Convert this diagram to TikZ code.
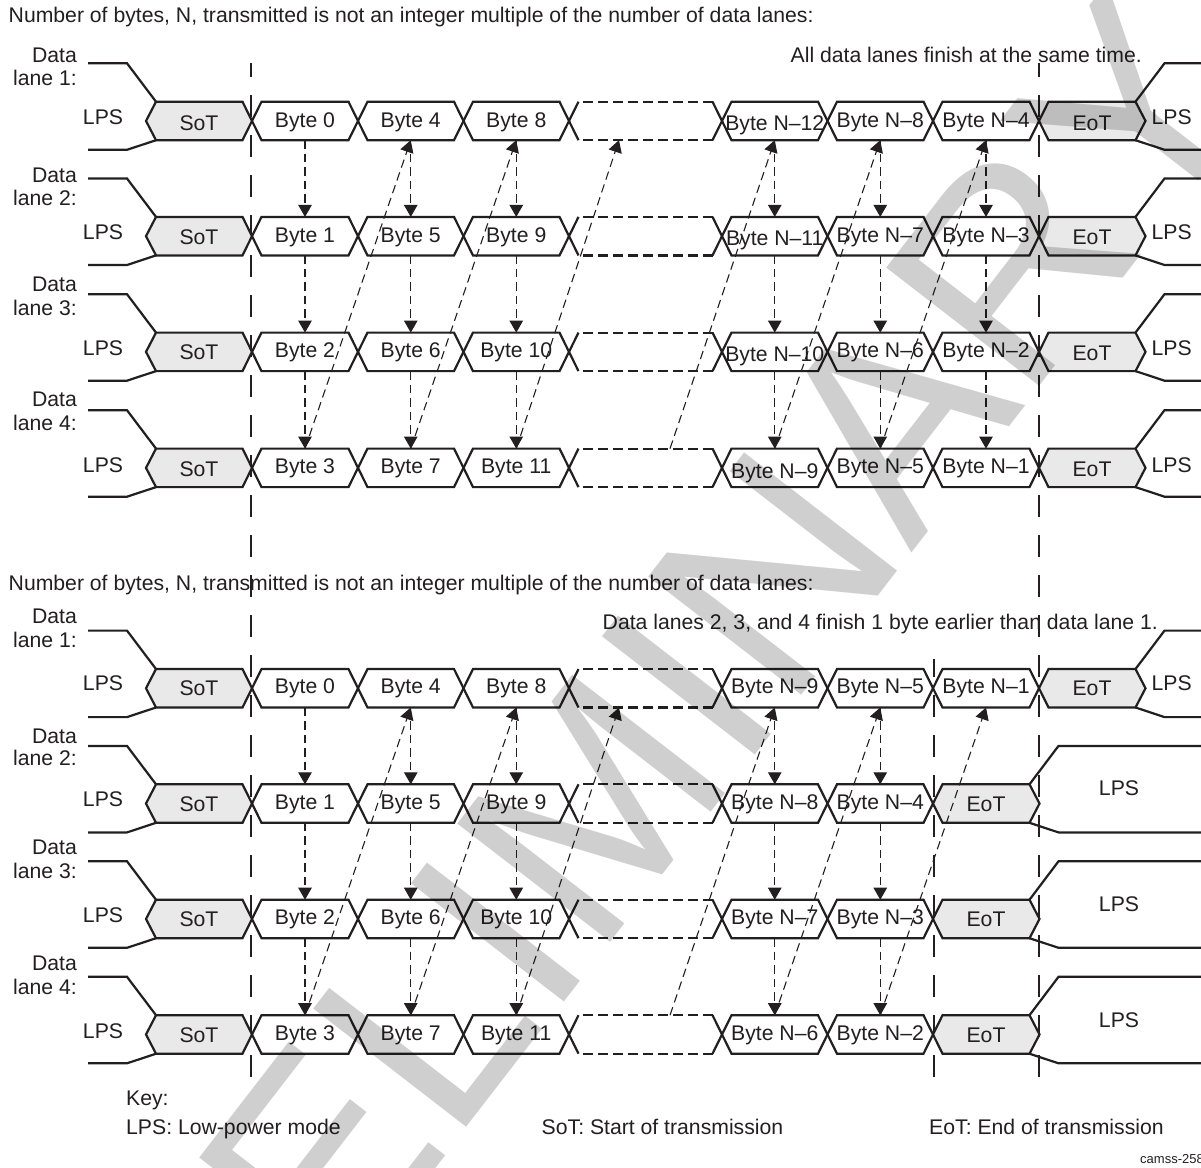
\documentclass[tikz,border=0pt]{standalone}
\usepackage{fontspec}
\setmainfont{Liberation Sans}
\newfontfamily\wmfont{Liberation Sans}[Kerning=Off]
\usetikzlibrary{arrows.meta,calc}
\definecolor{ink}{HTML}{231F20}
\definecolor{cellgray}{HTML}{E9E9E9}
\definecolor{wmark}{HTML}{CFCFCF}
\tikzset{
  bus/.style={draw=ink,line width=2.2pt,line join=miter},
  txt/.style={text=ink,font=\fontsize{21.2}{24}\selectfont,inner sep=0pt,text height=15.3pt,text depth=0pt},
  smalltxt/.style={text=ink,font=\fontsize{13}{15}\selectfont,inner sep=0pt},
  guide/.style={draw=ink,line width=2.2pt,dash pattern=on 22pt off 18pt},
  link/.style={draw=ink,line width=1.1pt,dash pattern=on 8.5pt off 5pt,-{Triangle[length=12pt,width=13.5pt]}}
}
% \bytecell{name}{left crossing}{right crossing}{bus top}{label}{label y}
\newcommand\bytecell[6]{%
  \pgfmathsetmacro\ct{#4}\pgfmathsetmacro\cb{#4+38.5}\pgfmathsetmacro\cm{#4+19.25}%
  \draw[bus] (#2,\cm) -- (#2+9.5,\ct) -- (#3-9.5,\ct) -- (#3,\cm) -- (#3-9.5,\cb) -- (#2+9.5,\cb) -- cycle;
  \pgfmathsetmacro\cc{(#2+#3)/2}%
  \coordinate (#1-t) at (\cc,\ct); \coordinate (#1-b) at (\cc,\cb);
  \node[txt] (#1) at (\cc,#6) {#5};
}
% \gapcell{name}{left}{right}{bus top}
\newcommand\gapcell[4]{%
  \pgfmathsetmacro\ct{#4}\pgfmathsetmacro\cb{#4+38.5}\pgfmathsetmacro\cm{#4+19.25}%
  \draw[bus] (#2+9.5,\ct) -- (#2,\cm) -- (#2+9.5,\cb);
  \draw[bus] (#3-9.5,\ct) -- (#3,\cm) -- (#3-9.5,\cb);
  \draw[bus,dash pattern=on 10pt off 5pt] (#2+14,\ct) -- (#3-9.5,\ct);
  \draw[bus,dash pattern=on 10pt off 5pt] (#2+14,\cb) -- (#3-9.5,\cb);
  \pgfmathsetmacro\cc{(#2+#3)/2+24.5}%
  \coordinate (#1-t) at (\cc,\ct);
  \pgfmathsetmacro\cc{(#2+#3)/2-26.5}%
  \coordinate (#1-b) at (\cc,\cb);
}
% \sotcell{name}{bus top}{label y}{lps y}{data y}{lane y}{lane no}
\newcommand\sotcell[7]{%
  \pgfmathsetmacro\ct{#2}\pgfmathsetmacro\cb{#2+38.5}\pgfmathsetmacro\cm{#2+19.25}%
  \pgfmathsetmacro\cu{#2-38.4}\pgfmathsetmacro\cd{#2+48.1}%
  \draw[bus,fill=cellgray] (146,\cm) -- (156,\ct) -- (242.5,\ct) -- (252,\cm) -- (242.5,\cb) -- (156,\cb) -- cycle;
  \draw[bus] (88,\cu) -- (127,\cu) -- (156,\ct);
  \draw[bus] (88,\cd) -- (127,\cd) -- (156,\cb);
  \node[txt] (#1s) at (199,#3) {SoT};
  \node[txt] (#1l) at (103,#4) {LPS};
  \node[txt,anchor=east] (#1d) at (77,#5) {Data};
  \node[txt,anchor=east] (#1n) at (77,#6) {lane #7:};
}
% \eotcell{name}{left crossing}{bus top}{label y}
\newcommand\eotcell[4]{%
  \pgfmathsetmacro\ct{#3}\pgfmathsetmacro\cb{#3+38.5}\pgfmathsetmacro\cm{#3+19.25}%
  \draw[bus,fill=cellgray] (#2,\cm) -- (#2+9.5,\ct) -- (#2+96.5,\ct) -- (#2+106.5,\cm) -- (#2+96.5,\cb) -- (#2+9.5,\cb) -- cycle;
  \pgfmathsetmacro\cc{#2+53}%
  \node[txt] (#1e) at (\cc,#4) {EoT};
  \pgfmathsetmacro\cu{#3-38.4}\pgfmathsetmacro\cd{#3+48.1}%
  \draw[bus] (#2+96.5,\ct) -- (#2+125.5,\cu) -- (1202,\cu);
  \draw[bus] (#2+96.5,\cb) -- (#2+125.5,\cd) -- (1202,\cd);
}
\begin{document}
\begin{tikzpicture}[x=1pt,y=-1pt]
\useasboundingbox (0,0) rectangle (1201,1167);
\clip (0,0) rectangle (1201,1167);
\fill[white] (0,0) rectangle (1201,1167);

% ---------- headings
\node[txt,anchor=west] (h1) at (8.5,15) {Number of bytes, N, transmitted is not an integer multiple of the number of data lanes:};
\node[txt,anchor=east] (n1) at (1142,54.8) {All data lanes finish at the same time.};
\node[txt,anchor=west] (h2) at (8.5,583) {Number of bytes, N, transmitted is not an integer multiple of the number of data lanes:};
\node[txt,anchor=east] (n2) at (1158,621.7) {Data lanes 2, 3, and 4 finish 1 byte earlier than data lane 1.};

% ---------- guides
\coordinate (ga) at (251.3,63); \coordinate (gb) at (251.3,1077);
\coordinate (gc) at (1039,63);  \coordinate (gd) at (1039,1077);
\coordinate (ge) at (934,659);  \coordinate (gf) at (934,1077);
\draw[guide,dash phase=8pt] (ga) -- (gb);
\draw[guide,dash phase=8pt] (gc) -- (gd);
\draw[guide,dash phase=4pt] (ge) -- (gf);

% ---------- upper block
\sotcell{a1}{101.7}{122.5}{117}{54.5}{78}{1}
\sotcell{a2}{216.9}{237}{231.5}{175}{198}{2}
\sotcell{a3}{332.6}{352}{347.5}{284}{308}{3}
\sotcell{a4}{448.6}{468.5}{464.5}{399}{423}{4}
\bytecell{a1c1}{252}{358}{101.7}{Byte 0}{120}
\bytecell{a1c2}{358}{463.5}{101.7}{Byte 4}{120}
\bytecell{a1c3}{463.5}{569}{101.7}{Byte 8}{120}
\gapcell{a1c4}{569}{722}{101.7}
\bytecell{a1c5}{722}{827.5}{101.7}{Byte N–12}{122.6}
\bytecell{a1c6}{827.5}{933}{101.7}{Byte N–8}{120}
\bytecell{a1c7}{933}{1039}{101.7}{Byte N–4}{120}
\bytecell{a2c1}{252}{358}{216.9}{Byte 1}{235}
\bytecell{a2c2}{358}{463.5}{216.9}{Byte 5}{235}
\bytecell{a2c3}{463.5}{569}{216.9}{Byte 9}{235}
\gapcell{a2c4}{569}{722}{216.9}
\bytecell{a2c5}{722}{827.5}{216.9}{Byte N–11}{237.6}
\bytecell{a2c6}{827.5}{933}{216.9}{Byte N–7}{235}
\bytecell{a2c7}{933}{1039}{216.9}{Byte N–3}{235}
\bytecell{a3c1}{252}{358}{332.6}{Byte 2}{350}
\bytecell{a3c2}{358}{463.5}{332.6}{Byte 6}{350}
\bytecell{a3c3}{463.5}{569}{332.6}{Byte 10}{350}
\gapcell{a3c4}{569}{722}{332.6}
\bytecell{a3c5}{722}{827.5}{332.6}{Byte N–10}{353.5}
\bytecell{a3c6}{827.5}{933}{332.6}{Byte N–6}{350}
\bytecell{a3c7}{933}{1039}{332.6}{Byte N–2}{350}
\bytecell{a4c1}{252}{358}{448.6}{Byte 3}{466}
\bytecell{a4c2}{358}{463.5}{448.6}{Byte 7}{466}
\bytecell{a4c3}{463.5}{569}{448.6}{Byte 11}{466}
\gapcell{a4c4}{569}{722}{448.6}
\bytecell{a4c5}{722}{827.5}{448.6}{Byte N–9}{470.5}
\bytecell{a4c6}{827.5}{933}{448.6}{Byte N–5}{466}
\bytecell{a4c7}{933}{1039}{448.6}{Byte N–1}{466}
\eotcell{a1}{1039}{101.7}{122.5}
\eotcell{a2}{1039}{216.9}{237}
\eotcell{a3}{1039}{332.6}{352.5}
\eotcell{a4}{1039}{448.6}{468.5}
\node[txt] (a1r) at (1171.7,117) {LPS};
\node[txt] (a2r) at (1171.7,231.5) {LPS};
\node[txt] (a3r) at (1171.7,347.5) {LPS};
\node[txt] (a4r) at (1171.7,464.5) {LPS};

% ---------- lower block
\sotcell{b1}{669}{688.3}{683}{616}{640}{1}
\sotcell{b2}{784.3}{803.5}{798.5}{736}{758}{2}
\sotcell{b3}{899.7}{919}{914.5}{847}{871}{3}
\sotcell{b4}{1015.2}{1034.7}{1030.5}{963}{987}{4}
\bytecell{b1c1}{252}{358}{669}{Byte 0}{686}
\bytecell{b1c2}{358}{463.5}{669}{Byte 4}{686}
\bytecell{b1c3}{463.5}{569}{669}{Byte 8}{686}
\gapcell{b1c4}{569}{722}{669}
\bytecell{b1c5}{722}{827.5}{669}{Byte N–9}{686}
\bytecell{b1c6}{827.5}{933}{669}{Byte N–5}{686}
\bytecell{b1c7}{933}{1039}{669}{Byte N–1}{686}
\bytecell{b2c1}{252}{358}{784.3}{Byte 1}{801.5}
\bytecell{b2c2}{358}{463.5}{784.3}{Byte 5}{801.5}
\bytecell{b2c3}{463.5}{569}{784.3}{Byte 9}{801.5}
\gapcell{b2c4}{569}{722}{784.3}
\bytecell{b2c5}{722}{827.5}{784.3}{Byte N–8}{801.5}
\bytecell{b2c6}{827.5}{933}{784.3}{Byte N–4}{801.5}
\bytecell{b3c1}{252}{358}{899.7}{Byte 2}{916.7}
\bytecell{b3c2}{358}{463.5}{899.7}{Byte 6}{916.7}
\bytecell{b3c3}{463.5}{569}{899.7}{Byte 10}{916.7}
\gapcell{b3c4}{569}{722}{899.7}
\bytecell{b3c5}{722}{827.5}{899.7}{Byte N–7}{916.7}
\bytecell{b3c6}{827.5}{933}{899.7}{Byte N–3}{916.7}
\bytecell{b4c1}{252}{358}{1015.2}{Byte 3}{1033}
\bytecell{b4c2}{358}{463.5}{1015.2}{Byte 7}{1033}
\bytecell{b4c3}{463.5}{569}{1015.2}{Byte 11}{1033}
\gapcell{b4c4}{569}{722}{1015.2}
\bytecell{b4c5}{722}{827.5}{1015.2}{Byte N–6}{1033}
\bytecell{b4c6}{827.5}{933}{1015.2}{Byte N–2}{1033}
\eotcell{b1}{1039}{669}{688.3}
\eotcell{b2}{933}{784.3}{803.5}
\eotcell{b3}{933}{899.7}{919}
\eotcell{b4}{933}{1015.2}{1034.7}
\node[txt] (b1r) at (1171.7,683) {LPS};
\node[txt] (b2r) at (1119,788) {LPS};
\node[txt] (b3r) at (1119,904) {LPS};
\node[txt] (b4r) at (1119,1020) {LPS};

% ---------- arrows
\foreach \bk/\cols in {a/{1,2,3,5,6,7},b/{1,2,3,5,6}}{
  \foreach \cl in \cols{
    \draw[link] (\bk1c\cl-b) -- (\bk2c\cl-t);
    \draw[link] (\bk2c\cl-b) -- (\bk3c\cl-t);
    \draw[link] (\bk3c\cl-b) -- (\bk4c\cl-t);
  }
}
\foreach \bk in {a,b}{
  \foreach \f/\g in {1/2,2/3,3/4,4/5,5/6,6/7}{
    \draw[link] (\bk4c\f-t) -- (\bk1c\g-b);
  }
}

% ---------- key
\node[txt,anchor=west] (key) at (126,1098) {Key:};
\node[txt,anchor=west] (k1) at (126,1127) {LPS: Low-power mode};
\node[txt,anchor=west] (k2) at (541.5,1127) {SoT: Start of transmission};
\node[txt,anchor=west] (k3) at (929,1127) {EoT: End of transmission};
\node[smalltxt,anchor=west] (tag) at (1140,1159) {camss-258};

% ---------- watermark
\begin{scope}[blend mode=multiply]
\node[text=wmark,font=\wmfont\fontsize{281}{281}\selectfont,inner sep=0pt,anchor=base west,rotate=52.3] (wm) at (99.5,1603.2) {PRELIMINARY};
\end{scope}
\end{tikzpicture}
\end{document}
